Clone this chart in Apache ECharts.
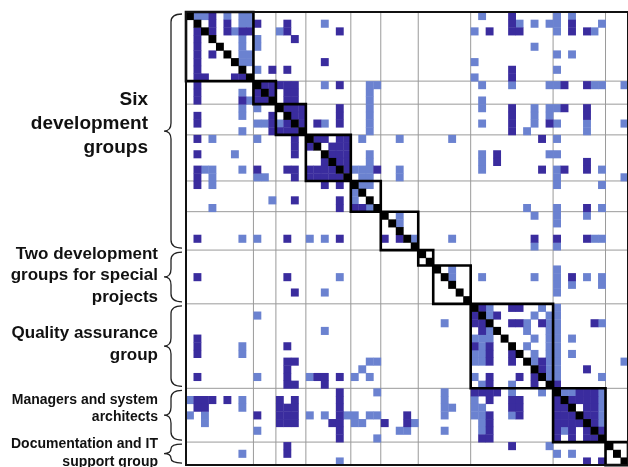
<!DOCTYPE html>
<html><head><meta charset="utf-8">
<script src="https://cdn.jsdelivr.net/npm/echarts/dist/echarts.min.js"></script>
<style>html,body{margin:0;padding:0;background:#fff}#c{width:628px;height:467px}</style>
</head><body><div id="c"></div>
<script>
// ---- data ----
const elementCount = 59;
const blockSizes = [9, 3, 4, 6, 4, 5, 2, 5, 11, 7, 3];
const sectionBlockCounts = [6, 2, 1, 1, 1];
const sectionLabels = [
  ["Six", "development", "groups"],
  ["Two development", "groups for special", "projects"],
  ["Quality assurance", "group"],
  ["Managers and system", "architects"],
  ["Documentation and IT", "support group"]
];
const ruledBoundaries = [9, 12, 16, 22, 26, 31, 38, 49, 56];

// dark (strong) dependencies: [row, [columns]]
const darkRows = [
  [0, [3, 43]], [1, [3, 5, 9, 13, 43, 51]], [2, [1, 3, 5, 7, 8, 13, 20, 40, 43, 44, 51, 53]],
  [3, [1, 14]], [4, [1]], [5, [1, 3]], [6, [1, 18]], [7, [1, 11, 13, 43]], [8, [1, 2, 6, 7, 43]],
  [9, [1, 10, 11, 12, 13, 14, 20, 50, 53]], [10, [1, 9, 11, 13, 14]], [11, [1, 7, 9, 10, 13, 14]],
  [12, [13, 14, 15, 20, 43, 50, 53]], [13, [1, 11, 14, 15, 20, 43, 53]],
  [14, [1, 11, 13, 15, 17, 20, 43, 48]], [15, [11, 12, 13, 14, 43]],
  [16, [1, 14, 17, 18, 20, 21, 47]], [17, [14, 16, 19, 20, 21]], [18, [1, 14, 19, 20, 21, 41]],
  [19, [18, 20, 21, 41, 53]], [20, [1, 9, 13, 14, 16, 17, 18, 19, 21, 25, 47, 50, 53]],
  [21, [1, 14, 16, 17, 18, 19, 20]], [22, [1, 18, 20]], [24, [14, 20]], [25, [20, 22, 23, 53]],
  [29, [1, 13, 20, 26, 28, 46, 49, 53]], [34, [1, 13, 51]], [36, [14]],
  [38, [39, 43, 44]], [39, [38, 41]], [40, [38, 39, 43, 44, 47, 54]], [41, [39]], [42, [1]],
  [43, [1, 13, 38, 40]], [44, [1, 40, 43]], [45, [13, 14, 40, 43, 47]], [46, [13, 47, 53]],
  [47, [1, 13, 17, 18, 20, 40, 44, 46]], [48, [13, 14, 18, 40, 46, 49]],
  [49, [20, 38, 39, 40, 41, 52, 53, 54]],
  [50, [1, 2, 3, 5, 12, 14, 20, 40, 43, 44, 49, 51, 52, 53, 54]],
  [51, [1, 2, 12, 13, 14, 20, 43, 44, 49, 50, 53, 54]],
  [52, [9, 12, 13, 14, 20, 29, 40, 44, 49, 50, 51, 53, 54]],
  [53, [12, 13, 14, 19, 20, 26, 29, 40, 49, 50, 51, 52, 54]],
  [54, [20, 40, 49, 51, 53, 55]], [55, [20, 39, 40, 49, 51, 53, 54]],
  [56, [13, 43]], [57, [13]], [58, [53, 55]]
];

// light (weak) dependencies: [row, [columns]]
const lightRows = [
  [0, [1, 2, 5, 7, 8, 39, 49, 51]], [1, [7, 8, 18, 44, 46, 48, 49, 55]], [2, [6, 12, 38, 49, 54]],
  [3, [7, 9]], [4, [7, 9, 46]], [5, [7, 8, 49, 51]], [6, [7, 8, 38]], [7, [9, 49]], [8, [38]],
  [9, [18, 24, 25, 39, 43, 48, 49, 54, 55, 58]], [10, [7, 24]], [11, [8, 24, 39]],
  [12, [7, 9, 24, 39, 46, 48, 49]], [13, [7, 24, 46, 48]],
  [14, [9, 10, 12, 18, 24, 39, 46, 49, 53, 58]], [15, [7, 24, 45, 53]],
  [16, [3, 9, 23, 28, 35, 49]], [18, [6, 24, 39, 48, 49]], [19, [24, 39]],
  [20, [2, 3, 7, 22, 23, 24, 28, 39, 49, 55]], [21, [3, 9, 10, 23, 24, 28, 49, 58]],
  [22, [3, 23, 24, 49, 55]], [23, [22]], [24, [11, 22]], [25, [3, 24, 45, 49, 55]],
  [26, [28, 46, 49, 53]], [27, [28, 49]], [29, [7, 9, 16, 18, 30, 35, 54, 55]], [30, [46, 49]],
  [33, [35, 49]], [34, [20, 35, 39, 46, 49, 53, 55]], [35, [49, 51, 55]], [36, [18, 49]],
  [38, [40, 47, 49]], [39, [9, 40, 46, 48, 49]], [40, [34, 45, 48, 49, 55]],
  [41, [18, 40, 45, 48, 49]], [42, [38, 39, 40, 46, 48, 49, 51]], [43, [7, 39, 45, 48, 49]],
  [44, [7, 38, 39, 46, 48, 49, 51]], [45, [24, 25, 38, 39, 46, 48, 49, 58]], [46, [23, 48, 49]],
  [47, [9, 16, 22, 24, 38, 48, 49, 55]], [48, [39, 43]], [49, [25, 34, 43, 47, 50, 51, 55]],
  [50, [0, 7, 34, 38, 55]], [51, [7, 34, 35, 38, 39, 55]],
  [52, [0, 2, 16, 18, 21, 22, 24, 25, 34, 38, 39, 43, 55]], [53, [2, 22, 23, 30, 39, 55]],
  [54, [9, 28, 29, 34, 39, 50]], [55, [25]], [56, [48]], [57, [7, 49, 51]], [58, [20]]
];

// ---- styles ----
const COLORS = { dark: '#3a2c9e', light: '#6b82d0', self: '#000000', rule: '#9a9a9a', box: '#000000', text: '#111111' };
const labelStyles = [
  { size: 19, lh: 24, right: -38, dy: -7 },
  { size: 17, lh: 21.5, right: -28, dy: -1.5 },
  { size: 17, lh: 22, right: -28, dy: -2 },
  { size: 14, lh: 17, right: -28, dy: -6.5 },
  { size: 14, lh: 18, right: -28, dy: 0 }
];
const FONT = '"Liberation Sans", Arial, Helvetica, sans-serif';

// ---- build series data ----
function toCells(rows) {
  const out = [];
  rows.forEach(([r, cols]) => cols.forEach(c => out.push([c, r])));
  return out;
}
const darkData = toCells(darkRows);
const lightData = toCells(lightRows);
const elements = [];
for (let i = 0; i < elementCount; i++) elements.push(i);
const selfData = elements.map(i => [i, i]);

const blockData = [];
let acc = 0;
blockSizes.forEach(s => { blockData.push([acc, acc + s]); acc += s; });
const sectionData = [];
let bi = 0;
sectionBlockCounts.forEach((n, k) => {
  const start = blockData[bi][0];
  const end = blockData[bi + n - 1][1];
  sectionData.push([start, end, k]);
  bi += n;
});

function cellRenderer(color) {
  return function (params, api) {
    const c = api.value(0), r = api.value(1);
    const p0 = api.coord([c, r]);
    const p1 = api.coord([c + 1, r + 1]);
    return {
      type: 'rect',
      shape: { x: p0[0], y: p0[1], width: p1[0] - p0[0] + 0.4, height: p1[1] - p0[1] + 0.4 },
      style: { fill: color }
    };
  };
}

const option = {
  animation: false,
  backgroundColor: '#ffffff',
  grid: { left: 186, top: 12, width: 59 * 7.6, height: 59 * 7.68 },
  xAxis: { type: 'value', min: 0, max: elementCount, show: false },
  yAxis: { type: 'value', min: 0, max: elementCount, inverse: true, show: false },
  series: [
    {
      type: 'custom', z: 1, silent: true,
      data: ruledBoundaries.map(b => [b, b]),
      renderItem: function (params, api) {
        const b = api.value(0);
        const a = api.coord([b, 0]), a2 = api.coord([b, elementCount]);
        const h = api.coord([0, b]), h2 = api.coord([elementCount, b]);
        return {
          type: 'group', children: [
            { type: 'line', shape: { x1: a[0], y1: a[1], x2: a2[0], y2: a2[1] }, style: { stroke: COLORS.rule, lineWidth: 1 } },
            { type: 'line', shape: { x1: h[0], y1: h[1], x2: h2[0], y2: h2[1] }, style: { stroke: COLORS.rule, lineWidth: 1 } }
          ]
        };
      }
    },
    { type: 'custom', z: 2, silent: true, data: lightData, renderItem: cellRenderer(COLORS.light) },
    { type: 'custom', z: 3, silent: true, data: darkData, renderItem: cellRenderer(COLORS.dark) },
    { type: 'custom', z: 4, silent: true, data: selfData, renderItem: cellRenderer(COLORS.self) },
    {
      type: 'custom', z: 5, silent: true, data: blockData,
      renderItem: function (params, api) {
        const s = api.value(0), e = api.value(1);
        const p0 = api.coord([s, s]), p1 = api.coord([e, e]);
        return {
          type: 'rect',
          shape: { x: p0[0], y: p0[1], width: p1[0] - p0[0], height: p1[1] - p0[1] },
          style: { fill: 'none', stroke: COLORS.box, lineWidth: 2.6 }
        };
      }
    },
    {
      type: 'custom', z: 6, silent: true, data: [[0, elementCount]],
      renderItem: function (params, api) {
        const p0 = api.coord([0, 0]), p1 = api.coord([elementCount, elementCount]);
        return {
          type: 'rect',
          shape: { x: p0[0], y: p0[1], width: p1[0] - p0[0], height: p1[1] - p0[1] },
          style: { fill: 'none', stroke: '#111', lineWidth: 2 }
        };
      }
    },
    {
      type: 'custom', z: 7, silent: true, data: sectionData,
      renderItem: function (params, api) {
        const s = api.value(0), e = api.value(1), k = api.value(2);
        const st = labelStyles[k];
        const top = api.coord([0, s]), bot = api.coord([0, e]);
        const gx = top[0];
        const y0 = top[1] + 2, y1 = bot[1] - 2, ym = (y0 + y1) / 2;
        const xe = gx - 4, xs = gx - 15, xt = gx - 22;
        const r = Math.min(8, (y1 - y0) / 4);
        const d = 'M' + xe + ' ' + y0 + ' Q' + xs + ' ' + y0 + ' ' + xs + ' ' + (y0 + r) +
          ' L' + xs + ' ' + (ym - r) + ' Q' + xs + ' ' + ym + ' ' + xt + ' ' + ym +
          ' Q' + xs + ' ' + ym + ' ' + xs + ' ' + (ym + r) +
          ' L' + xs + ' ' + (y1 - r) + ' Q' + xs + ' ' + y1 + ' ' + xe + ' ' + y1;
        return {
          type: 'group', children: [
            { type: 'path', shape: { pathData: d }, style: { fill: 'none', stroke: '#222', lineWidth: 1.3 } },
            {
              type: 'text', x: gx + st.right, y: ym + st.dy,
              style: {
                text: sectionLabels[k].join('\n'), fill: COLORS.text, fontSize: st.size, fontWeight: 'bold',
                fontFamily: FONT, lineHeight: st.lh, align: 'right', verticalAlign: 'middle'
              }
            }
          ]
        };
      }
    }
  ]
};
const chart = echarts.init(document.getElementById('c'), null, { renderer: 'canvas' });
chart.setOption(option);
</script></body></html>
